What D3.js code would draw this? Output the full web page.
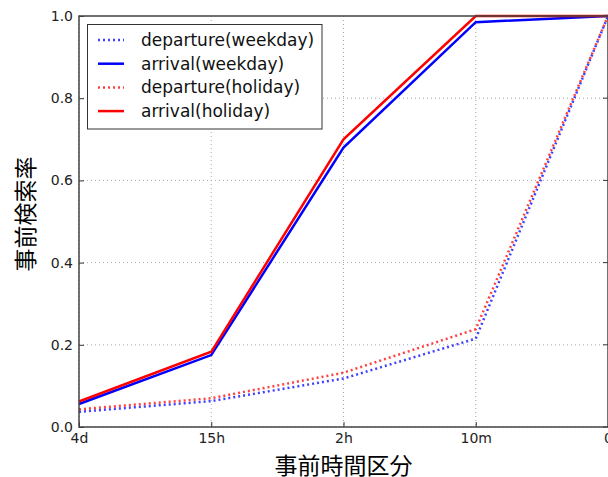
<!DOCTYPE html>
<html>
<head>
<meta charset="utf-8">
<script src="https://cdn.jsdelivr.net/npm/d3@7"></script>
<style>
  html, body { margin: 0; padding: 0; background: #fff; }
  svg { display: block; }
</style>
</head>
<body>
<svg id="chart" width="608" height="477"></svg>
<script>
// Time-before-departure buckets (x axis)
const categories = ["4d", "15h", "2h", "10m", "0"];
const yTicks = [0.0, 0.2, 0.4, 0.6, 0.8, 1.0];

// Cumulative search ratio per bucket
const departureWeekday = [0.037, 0.063, 0.118, 0.215, 1.0];
const arrivalWeekday   = [0.056, 0.175, 0.68, 0.985, 1.0];
const departureHoliday = [0.043, 0.070, 0.132, 0.238, 1.0];
const arrivalHoliday   = [0.062, 0.183, 0.70, 1.0, 1.0];

const seriesNames  = ["departure(weekday)", "arrival(weekday)", "departure(holiday)", "arrival(holiday)"];
const seriesValues = [departureWeekday, arrivalWeekday, departureHoliday, arrivalHoliday];
const seriesColors = ["#0000ff", "#0000ff", "#ff0000", "#ff0000"];
const seriesDotted = [true, false, true, false];

const svg = d3.select("#chart");
const plotL = 79, plotR = 608, plotT = 16, plotB = 427;

const x = d3.scalePoint().domain(categories).range([plotL, plotR]);
const y = d3.scaleLinear().domain([0, 1]).range([plotB, plotT]);

const font = "'DejaVu Sans', sans-serif";
const cjk = "'Noto Sans CJK JP', sans-serif";

// grid
const grid = svg.append("g");
categories.forEach(c => {
  grid.append("line").attr("x1", x(c)).attr("x2", x(c)).attr("y1", plotT).attr("y2", plotB)
    .attr("stroke", "#aaa").attr("stroke-width", 1).attr("stroke-dasharray", "1,3");
});
yTicks.forEach(t => {
  grid.append("line").attr("x1", plotL).attr("x2", plotR).attr("y1", y(t)).attr("y2", y(t))
    .attr("stroke", "#aaa").attr("stroke-width", 1).attr("stroke-dasharray", "1,3");
});

// series lines
const line = d3.line().x((d, i) => x(categories[i])).y(d => y(d));
seriesValues.forEach((vals, i) => {
  svg.append("path").datum(vals).attr("d", line)
    .attr("fill", "none")
    .attr("stroke", seriesColors[i])
    .attr("stroke-width", 2.5)
    .attr("stroke-opacity", seriesDotted[i] ? 0.75 : 1)
    .attr("stroke-dasharray", seriesDotted[i] ? "2,3" : null)
    .attr("stroke-linejoin", "miter");
});

// axes with inward ticks
const xAxis = d3.axisBottom(x).tickSize(-5).tickPadding(6);
const gx = svg.append("g").attr("transform", `translate(0,${plotB})`).call(xAxis);
const yAxis = d3.axisLeft(y).tickValues(yTicks).tickFormat(d3.format(".1f")).tickSize(-5).tickPadding(6);
const gy = svg.append("g").attr("transform", `translate(${plotL},0)`).call(yAxis);
[gx, gy].forEach(g => {
  g.select(".domain").remove();
  g.selectAll(".tick line").attr("stroke", "#333").attr("stroke-width", 1);
  g.selectAll(".tick text").attr("font-family", font).attr("font-size", 14).attr("fill", "#222");
});
// right-side ticks on y
yTicks.forEach(t => {
  svg.append("line").attr("x1", plotR).attr("x2", plotR - 5).attr("y1", y(t)).attr("y2", y(t))
    .attr("stroke", "#333");
});

// frame
svg.append("rect").attr("x", plotL).attr("y", plotT).attr("width", plotR - plotL).attr("height", plotB - plotT)
  .attr("fill", "none").attr("stroke", "#444").attr("stroke-width", 1.5);

// legend
const lg = svg.append("g");
lg.append("rect").attr("x", 87.5).attr("y", 24.5).attr("width", 234.5).attr("height", 104.5)
  .attr("fill", "#fff").attr("stroke", "#333").attr("stroke-width", 1);
seriesNames.forEach((name, i) => {
  const yy = 40 + i * 23.7;
  lg.append("line").attr("x1", 98).attr("x2", 124).attr("y1", yy).attr("y2", yy)
    .attr("stroke", seriesColors[i]).attr("stroke-width", 2.5)
    .attr("stroke-opacity", seriesDotted[i] ? 0.75 : 1)
    .attr("stroke-dasharray", seriesDotted[i] ? "2,3" : null);
  lg.append("text").attr("x", 141).attr("y", yy + 6).text(name)
    .attr("font-family", font).attr("font-size", 17).attr("fill", "#111");
});

// axis titles
svg.append("text").attr("x", 343.5).attr("y", 473.5).attr("text-anchor", "middle")
  .attr("font-family", cjk).attr("font-size", 23).attr("fill", "#000")
  .text("事前時間区分");
svg.append("text").attr("transform", "translate(33.5,214) rotate(-90)")
  .attr("text-anchor", "middle")
  .attr("font-family", cjk).attr("font-size", 23).attr("fill", "#000")
  .text("事前検索率");
</script>
</body>
</html>
